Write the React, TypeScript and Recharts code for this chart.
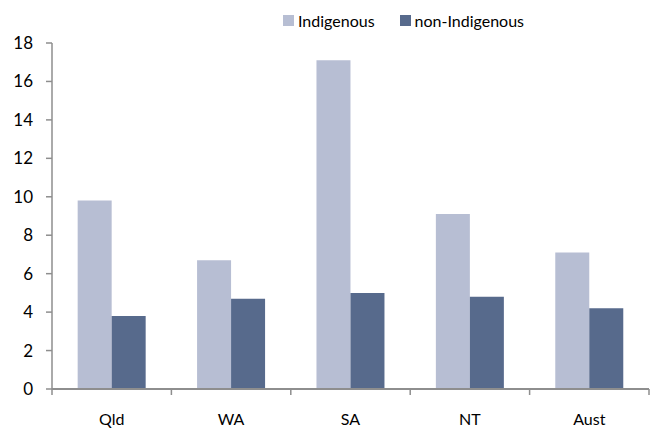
import { Bar, BarChart, XAxis, YAxis } from 'recharts';

const regions = ['Qld', 'WA', 'SA', 'NT', 'Aust'];
const indigenous = [9.8, 6.7, 17.1, 9.1, 7.1];
const nonIndigenous = [3.8, 4.7, 5.0, 4.8, 4.2];
const yTicks = [0, 2, 4, 6, 8, 10, 12, 14, 16, 18];

const data = regions.map((region, i) => ({
  region,
  indigenous: indigenous[i],
  nonIndigenous: nonIndigenous[i],
}));

const FONT = 'Lato, "Open Sans", sans-serif';
const AXIS = '#8e8e8e';
const LIGHT = '#b7bed3';
const DARK = '#576a8c';

// category label plus Excel-style tick marks on the band edges (payload.offset = half band)
const CategoryTick = (props: any) => {
  const { x, y, payload, index } = props;
  const half = payload.offset ?? 0;
  const last = index === regions.length - 1;
  return (
    <g>
      <line x1={x - half} x2={x - half} y1={y} y2={y + 6} stroke={AXIS} strokeWidth={1.5} />
      {last && <line x1={x + half} x2={x + half} y1={y} y2={y + 6} stroke={AXIS} strokeWidth={1.5} />}
      <text x={x} y={y + 25} dy="0.71em" textAnchor="middle" fill="#000" fontSize={16} fontFamily={FONT}>
        {payload.value}
      </text>
    </g>
  );
};

// legend kept outside recharts' layout so it doesn't push the plot down
const LegendBox = () => (
  <div
    style={{
      position: 'absolute',
      left: 283,
      top: 11,
      display: 'flex',
      alignItems: 'center',
      fontFamily: FONT,
      fontSize: 16,
      color: '#000',
    }}
  >
    <span style={{ width: 11, height: 11, background: LIGHT, marginRight: 4 }} />
    <span style={{ marginRight: 25 }}>Indigenous</span>
    <span style={{ width: 11, height: 11, background: DARK, marginRight: 4 }} />
    <span>non-Indigenous</span>
  </div>
);

export default function App() {
  return (
    <div style={{ position: 'absolute', left: 0, top: 0, width: 664, height: 436, background: '#fff' }}>
      <BarChart
        width={664}
        height={436}
        data={data}
        margin={{ top: 43, right: 15, bottom: 17, left: 0 }}
        barCategoryGap="21.5%"
        barGap={0}
      >
        <XAxis
          dataKey="region"
          height={30}
          tickLine={false}
          tickSize={0}
          tickMargin={0}
          interval={0}
          axisLine={{ stroke: AXIS, strokeWidth: 2 }}
          tick={CategoryTick}
        />
        <YAxis
          domain={[0, 18]}
          ticks={yTicks}
          width={52}
          tickSize={6}
          tickMargin={13}
          axisLine={{ stroke: AXIS, strokeWidth: 1.5 }}
          tickLine={{ stroke: AXIS, strokeWidth: 1.5 }}
          tick={{ fill: '#000', fontSize: 17, fontFamily: FONT }}
        />
        <Bar dataKey="indigenous" name="Indigenous" fill={LIGHT} isAnimationActive={false} />
        <Bar dataKey="nonIndigenous" name="non-Indigenous" fill={DARK} isAnimationActive={false} />
      </BarChart>
      <LegendBox />
    </div>
  );
}
